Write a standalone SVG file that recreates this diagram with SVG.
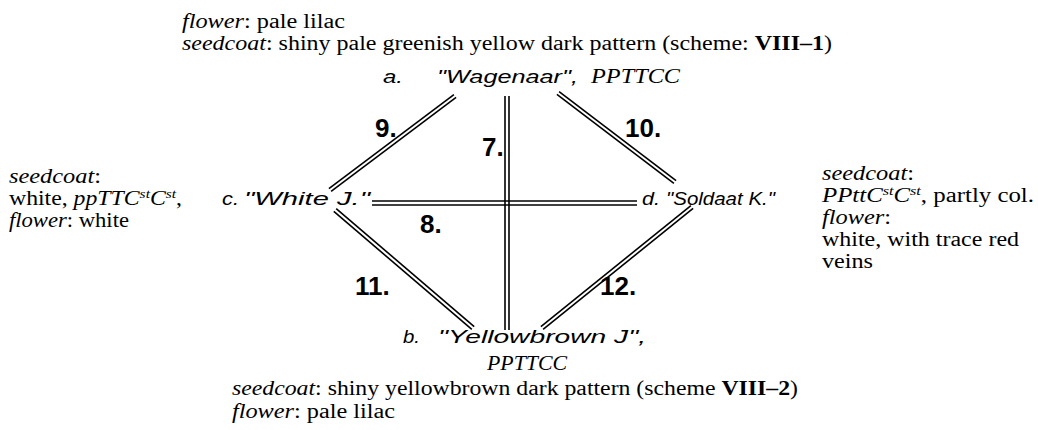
<svg xmlns="http://www.w3.org/2000/svg" width="1038" height="430" viewBox="0 0 1038 430">
<style>
.s{font-family:"Liberation Serif","Times New Roman",serif;font-size:20px;fill:#000}
.i{font-style:italic}
.b{font-weight:bold}
.sup{font-size:13px;font-style:italic}
.n{font-family:"Liberation Sans",Arial,sans-serif;font-style:italic;font-size:19px;fill:#000}
.num{font-family:"Liberation Sans",Arial,sans-serif;font-weight:bold;font-size:26px;fill:#000}
.ln{stroke:#000;stroke-width:1.6;fill:none}
</style>
<rect width="1038" height="430" fill="#fff"/>
<g id="connectors">
  <line class="ln" x1="456.1" y1="97.4" x2="331.1" y2="191.4"/>
  <line class="ln" x1="453.9" y1="94.6" x2="328.9" y2="188.6"/>
  <line class="ln" x1="556.9" y1="94.4" x2="673.9" y2="183.4"/>
  <line class="ln" x1="559.1" y1="91.6" x2="676.1" y2="180.6"/>
  <line class="ln" x1="333.8" y1="211.4" x2="471.8" y2="329.4"/>
  <line class="ln" x1="336.2" y1="208.6" x2="474.2" y2="326.6"/>
  <line class="ln" x1="693.1" y1="208.4" x2="543.1" y2="329.4"/>
  <line class="ln" x1="690.9" y1="205.6" x2="540.9" y2="326.6"/>
  <line class="ln" x1="505" y1="96" x2="505" y2="330"/>
  <line class="ln" x1="509" y1="96" x2="509" y2="330"/>
  <line class="ln" x1="372" y1="201" x2="637" y2="201"/>
  <line class="ln" x1="372" y1="205" x2="637" y2="205"/>
  <text class="num" x="375" y="137">9.</text>
  <text class="num" x="482" y="156">7.</text>
  <text class="num" x="625" y="137">10.</text>
  <text class="num" x="420" y="233">8.</text>
  <text class="num" x="355" y="295">11.</text>
  <text class="num" x="600" y="295">12.</text>
</g>
<g id="node-a">
  <text class="s" x="182" y="28" textLength="163" lengthAdjust="spacingAndGlyphs"><tspan class="i">flower</tspan>: pale lilac</text>
  <text class="s" x="182" y="50" textLength="650" lengthAdjust="spacingAndGlyphs"><tspan class="i">seedcoat</tspan>: shiny pale greenish yellow dark pattern (scheme: <tspan class="b">VIII–1</tspan>)</text>
  <text class="n" x="383" y="83" textLength="20" lengthAdjust="spacingAndGlyphs">a.</text>
  <text class="n" x="437" y="83" textLength="141" lengthAdjust="spacingAndGlyphs">"Wagenaar",</text>
  <text class="s i" x="591" y="83" textLength="89" lengthAdjust="spacingAndGlyphs">PPTTCC</text>
</g>
<g id="node-c">
  <text class="s" x="9" y="183" textLength="92" lengthAdjust="spacingAndGlyphs"><tspan class="i">seedcoat</tspan>:</text>
  <text class="s" x="9" y="205" textLength="173" lengthAdjust="spacingAndGlyphs">white, <tspan class="i">ppTTC</tspan><tspan class="sup" dy="-7">st</tspan><tspan class="i" dy="7">C</tspan><tspan class="sup" dy="-7">st</tspan><tspan dy="7">,</tspan></text>
  <text class="s" x="9" y="227" textLength="120" lengthAdjust="spacingAndGlyphs"><tspan class="i">flower</tspan>: white</text>
  <text class="n" x="222" y="205" textLength="17" lengthAdjust="spacingAndGlyphs">c.</text>
  <text class="n" x="244" y="205" textLength="126" lengthAdjust="spacingAndGlyphs">"White J."</text>
</g>
<g id="node-d">
  <text class="n" x="642" y="205" textLength="18" lengthAdjust="spacingAndGlyphs">d.</text>
  <text class="n" x="666" y="205" textLength="109" lengthAdjust="spacingAndGlyphs">"Soldaat  K."</text>
  <text class="s" x="822" y="180" textLength="92" lengthAdjust="spacingAndGlyphs"><tspan class="i">seedcoat</tspan>:</text>
  <text class="s" x="822" y="202" textLength="212" lengthAdjust="spacingAndGlyphs"><tspan class="i">PPttC</tspan><tspan class="sup" dy="-7">st</tspan><tspan class="i" dy="7">C</tspan><tspan class="sup" dy="-7">st</tspan><tspan dy="7">, partly  col.</tspan></text>
  <text class="s" x="822" y="224" textLength="69" lengthAdjust="spacingAndGlyphs"><tspan class="i">flower</tspan>:</text>
  <text class="s" x="822" y="246" textLength="197" lengthAdjust="spacingAndGlyphs">white, with trace red</text>
  <text class="s" x="822" y="268" textLength="51" lengthAdjust="spacingAndGlyphs">veins</text>
</g>
<g id="node-b">
  <text class="n" x="403" y="343" textLength="17" lengthAdjust="spacingAndGlyphs">b.</text>
  <text class="n" x="438" y="343" textLength="208" lengthAdjust="spacingAndGlyphs">"Yellowbrown  J",</text>
  <text class="s i" x="487" y="370" textLength="80" lengthAdjust="spacingAndGlyphs">PPTTCC</text>
  <text class="s" x="232" y="395" textLength="566" lengthAdjust="spacingAndGlyphs"><tspan class="i">seedcoat</tspan>: shiny yellowbrown dark pattern (scheme <tspan class="b">VIII–2</tspan>)</text>
  <text class="s" x="232" y="418" textLength="163" lengthAdjust="spacingAndGlyphs"><tspan class="i">flower</tspan>: pale lilac</text>
</g>
</svg>
